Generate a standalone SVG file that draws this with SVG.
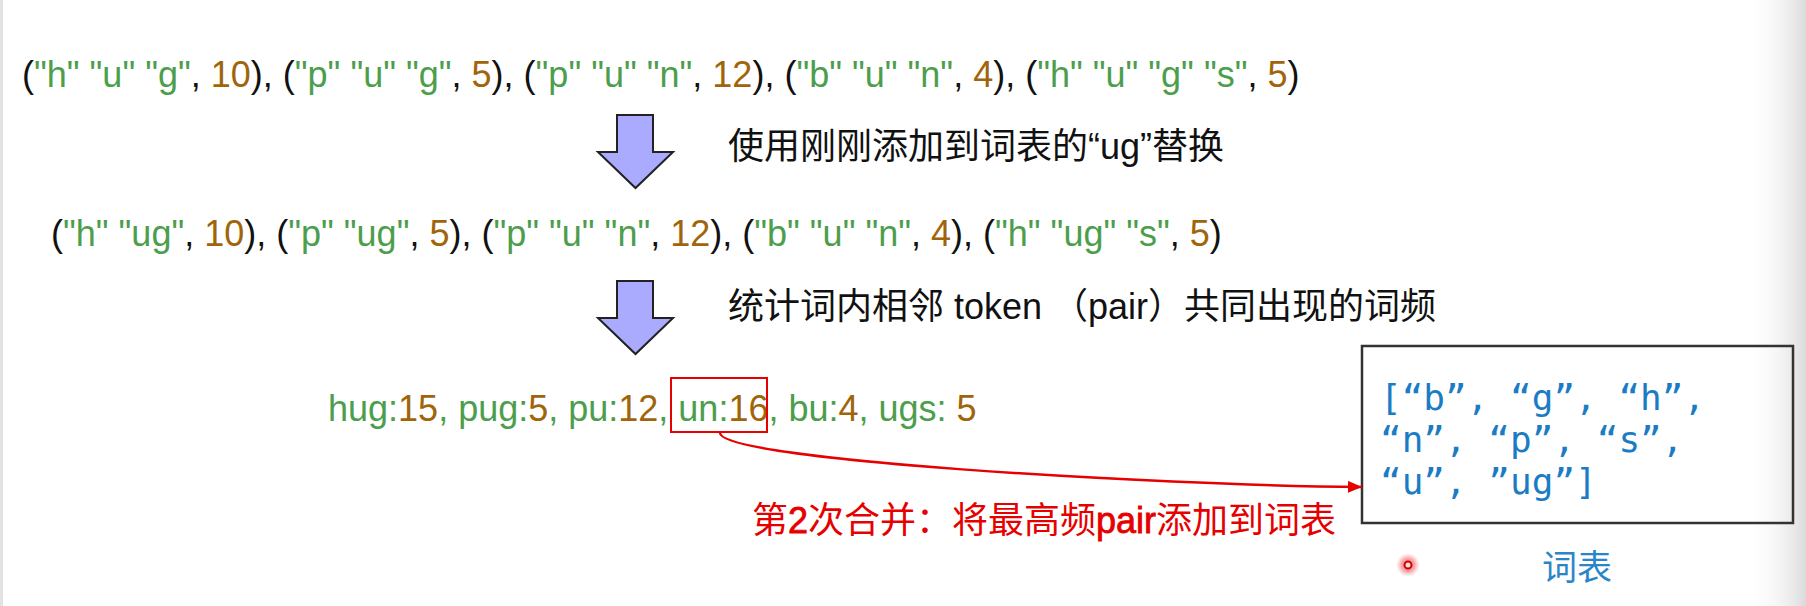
<svg xmlns="http://www.w3.org/2000/svg" width="1806" height="606" viewBox="0 0 1806 606">
<defs>
<style>
.t{font-family:"Liberation Sans","Noto Sans CJK SC",sans-serif;font-size:36px;fill:#111}
.g{fill:#4c9e4c}
.n{fill:#a0650a}
.k{fill:#111}
.red{fill:#e60000}
.b{stroke:#e60000;stroke-width:0.8}
.mono{font-family:"DejaVu Sans Mono","Liberation Mono",monospace;font-size:36px;fill:#1b7cc4}
.blk{fill:#aaaaff;stroke:#222;stroke-width:2;stroke-linejoin:miter}
</style>
<linearGradient id="edge" x1="0" y1="0" x2="1" y2="0">
<stop offset="0" stop-color="#ffffff" stop-opacity="0"/>
<stop offset="0.85" stop-color="#e6e6e6"/>
<stop offset="1" stop-color="#dadada"/>
</linearGradient>
<radialGradient id="dot">
<stop offset="0" stop-color="#f04040" stop-opacity="0.85"/>
<stop offset="0.6" stop-color="#f47070" stop-opacity="0.55"/>
<stop offset="1" stop-color="#f8a0a0" stop-opacity="0"/>
</radialGradient>
<marker id="ah" markerUnits="userSpaceOnUse" markerWidth="16" markerHeight="12" refX="14" refY="6" orient="auto">
<path d="M0,0 L14,6 L0,12 Z" fill="#e60000"/>
</marker>
</defs>
<rect width="1806" height="606" fill="#ffffff"/>
<rect x="0" y="0" width="3" height="606" fill="#e2e2e2"/>
<rect x="1745" y="0" width="61" height="606" fill="url(#edge)"/>

<g id="row1">
<text class="t" x="22" y="87"><tspan class="k">(</tspan><tspan class="g">"h" "u" "g"</tspan><tspan class="k">, </tspan><tspan class="n">10</tspan><tspan class="k">), (</tspan><tspan class="g">"p" "u" "g"</tspan><tspan class="k">, </tspan><tspan class="n">5</tspan><tspan class="k">), (</tspan><tspan class="g">"p" "u" "n"</tspan><tspan class="k">, </tspan><tspan class="n">12</tspan><tspan class="k">), (</tspan><tspan class="g">"b" "u" "n"</tspan><tspan class="k">, </tspan><tspan class="n">4</tspan><tspan class="k">), (</tspan><tspan class="g">"h" "u" "g" "s"</tspan><tspan class="k">, </tspan><tspan class="n">5</tspan><tspan class="k">)</tspan></text>
</g>

<g id="arrow1">
<polygon class="blk" points="617,115 653,115 653,152 673,152 635.5,188 598,152 617,152"/>
</g>

<g id="label1">
<text class="t" x="728" y="159">使用刚刚添加到词表的“ug”替换</text>
</g>

<g id="row2">
<text class="t" x="51" y="246"><tspan class="k">(</tspan><tspan class="g">"h" "ug"</tspan><tspan class="k">, </tspan><tspan class="n">10</tspan><tspan class="k">), (</tspan><tspan class="g">"p" "ug"</tspan><tspan class="k">, </tspan><tspan class="n">5</tspan><tspan class="k">), (</tspan><tspan class="g">"p" "u" "n"</tspan><tspan class="k">, </tspan><tspan class="n">12</tspan><tspan class="k">), (</tspan><tspan class="g">"b" "u" "n"</tspan><tspan class="k">, </tspan><tspan class="n">4</tspan><tspan class="k">), (</tspan><tspan class="g">"h" "ug" "s"</tspan><tspan class="k">, </tspan><tspan class="n">5</tspan><tspan class="k">)</tspan></text>
</g>

<g id="arrow2">
<polygon class="blk" points="617,281 653,281 653,318 673,318 635.5,354 598,318 617,318"/>
</g>

<g id="label2">
<text class="t" x="728" y="319">统计词内相邻 token （pair）共同出现的词频</text>
</g>

<g id="row3">
<text class="t" x="328" y="421"><tspan class="g">hug:</tspan><tspan class="n">15</tspan><tspan class="g">, pug:</tspan><tspan class="n">5</tspan><tspan class="g">, pu:</tspan><tspan class="n">12</tspan><tspan class="g">, un:</tspan><tspan class="n">16</tspan><tspan class="g">, bu:</tspan><tspan class="n">4</tspan><tspan class="g">, ugs: </tspan><tspan class="n">5</tspan></text>
</g>

<g id="highlight">
<rect x="671" y="378" width="96" height="54" fill="none" stroke="#e60000" stroke-width="2"/>
</g>

<g id="vocab-box">
<rect x="1362" y="346" width="431" height="177" fill="none" stroke="#333" stroke-width="2.5"/>
<text class="mono" x="1380" y="410">[“b”, “g”, “h”,</text>
<text class="mono" x="1380" y="452">“n”, “p”, “s”,</text>
<text class="mono" x="1380" y="494">“u”, ”ug”]</text>
</g>

<g id="vocab-label">
<text class="t" x="1542" y="580" style="fill:#2a86c8;font-size:35px">词表</text>
</g>

<g id="merge-label">
<text class="t red" x="752" y="533">第<tspan class="b">2</tspan>次合并：将最高频<tspan class="b">pair</tspan>添加到词表</text>
</g>

<g id="pointer">
<circle cx="1408" cy="565" r="12" fill="url(#dot)"/>
<circle cx="1408" cy="565" r="3.5" fill="#fde" stroke="#d40000" stroke-width="2"/>
</g>

<g id="connectors">
<path d="M720,433 C722,460 1150,485 1362,487" fill="none" stroke="#e60000" stroke-width="2.5" marker-end="url(#ah)"/>
</g>
</svg>
